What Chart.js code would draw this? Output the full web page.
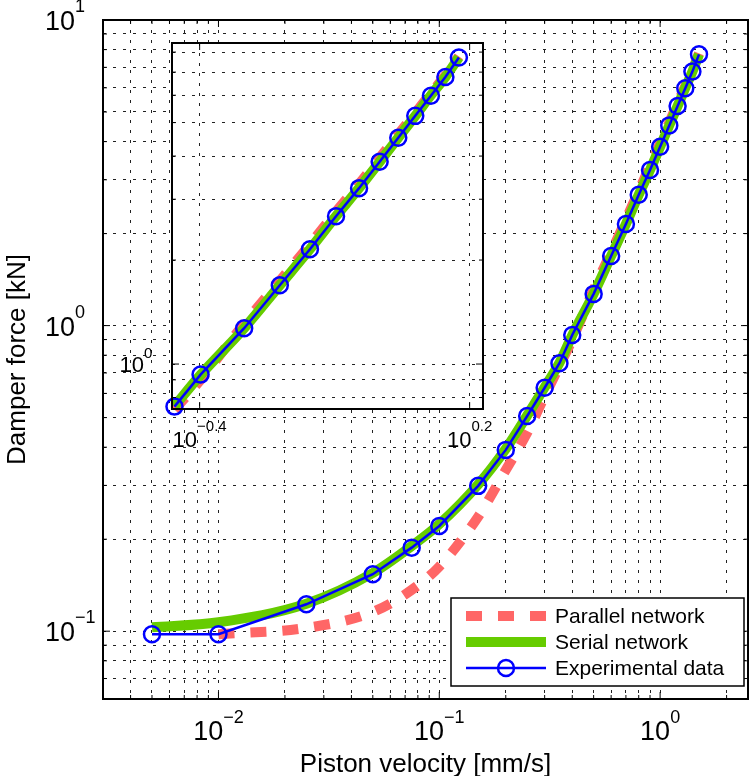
<!DOCTYPE html>
<html>
<head>
<meta charset="utf-8">
<script src="https://cdn.jsdelivr.net/npm/chart.js@4"></script>
<style>
  body { margin: 0; background: #fff; }
  #wrap { position: relative; width: 750px; height: 776px; }
  #wrap canvas { position: absolute; left: 0; top: 0; }
</style>
</head>
<body>
<div id="wrap">
  <canvas id="mainChart" width="750" height="776"></canvas>
  <canvas id="insetChart" width="750" height="776"></canvas>
</div>
<script>
// data (velocity in mm/s, force in kN)
const velocity = [0.005, 0.01, 0.025, 0.05, 0.075, 0.1, 0.15, 0.2, 0.25, 0.3, 0.35, 0.4,
  0.5, 0.6, 0.7, 0.8, 0.9, 1.0, 1.1, 1.2, 1.3, 1.4, 1.5];
const expForce = [0.0977, 0.0977, 0.1225, 0.1536, 0.1877, 0.221, 0.299, 0.392, 0.506, 0.626, 0.753, 0.932,
  1.27, 1.69, 2.15, 2.68, 3.23, 3.85, 4.52, 5.23, 5.98, 6.78, 7.72];
const serialForce = [0.103, 0.107, 0.123, 0.155, 0.19, 0.224, 0.302, 0.395, 0.508, 0.628, 0.755, 0.93,
  1.27, 1.69, 2.15, 2.68, 3.23, 3.85, 4.52, 5.23, 6.0, 6.78, 7.72];
const parallelForce = [null, 0.0977, 0.1025, 0.1156, 0.1365, 0.1627, 0.237, 0.337, 0.446, 0.588, 0.738, 0.9,
  1.31, 1.74, 2.22, 2.76, 3.32, 3.95, 4.62, 5.33, 6.08, 6.85, 7.78];

const seriesNames = ["Parallel network", "Serial network", "Experimental data"];

// axes
const mainXRange = [0.003, 2.5];
const mainYRange = [0.06, 10];
const mainXGrid = [0.003, 0.004, 0.005, 0.006, 0.007, 0.008, 0.009,
  0.01, 0.02, 0.03, 0.04, 0.05, 0.06, 0.07, 0.08, 0.09,
  0.1, 0.2, 0.3, 0.4, 0.5, 0.6, 0.7, 0.8, 0.9, 1, 2];
const mainYGrid = [0.06, 0.07, 0.08, 0.09, 0.1, 0.2, 0.3, 0.4, 0.5, 0.6, 0.7, 0.8, 0.9,
  1, 2, 3, 4, 5, 6, 7, 8, 9, 10];
const mainXExp = ["\u22122", "\u22121", "0"];
const mainYExp = ["\u22121", "0", "1"];

const insetStart = 0.35;
const insetXRange = [0.3456, 1.697];
const insetYRange = [0.741, 8.5];
const insetXExp = ["\u22120.4", "0.2"];
const insetYExp = ["0"];
const insetXGrid = [Math.pow(10, -0.4), Math.pow(10, 0.2)];
const insetYGrid = [0.8, 0.9, 1, 2, 3, 4, 5, 6, 7, 8];

const RED = "#ff6666", GREEN = "#66cc00", BLUE = "#0000ff";
const FONT = "'Liberation Sans', Arial, sans-serif";

function expValue(e) { return Math.pow(10, parseFloat(e.replace("\u2212", "-"))); }
function isDecade(v) { const l = Math.log10(v); return Math.abs(l - Math.round(l)) < 1e-6; }

function buildSets(fromX) {
  const pts = (ys) => velocity.map((v, i) => ({ x: v, y: ys[i] }))
    .filter((p) => p.y !== null && p.x >= fromX);
  return [
    { label: seriesNames[2], data: pts(expForce), borderColor: BLUE, borderWidth: 2.5,
      pointRadius: 8, pointBorderWidth: 2.5, pointBorderColor: BLUE,
      pointBackgroundColor: "rgba(0,0,0,0)", tension: 0 },
    { label: seriesNames[1], data: pts(serialForce), borderColor: GREEN, borderWidth: 10,
      pointRadius: 0, cubicInterpolationMode: "monotone" },
    { label: seriesNames[0], data: pts(parallelForce), borderColor: RED, borderWidth: 10,
      borderDash: [16, 16], borderCapStyle: "butt", pointRadius: 0, cubicInterpolationMode: "monotone" },
  ];
}

function logAxis(range, grid) {
  return {
    type: "logarithmic", min: range[0], max: range[1], bounds: "data",
    afterBuildTicks: (scale) => { scale.ticks = grid.map((v) => ({ value: v })); },
    ticks: { display: false },
    grid: { color: "#222", lineWidth: 1, drawTicks: false },
    border: { display: false, dash: [3, 7] },
  };
}

// "10" with a superscript exponent
function powLabel(ctx, exp, x, base, align, big, small, rise) {
  ctx.font = big + "px " + FONT;
  const w1 = ctx.measureText("10").width;
  ctx.font = small + "px " + FONT;
  const w2 = ctx.measureText(exp).width;
  let left = align === "center" ? x - (w1 + w2) / 2 : x - w1;
  ctx.textAlign = "left";
  ctx.textBaseline = "alphabetic";
  ctx.font = big + "px " + FONT;
  ctx.fillText("10", left, base);
  ctx.font = small + "px " + FONT;
  ctx.fillText(exp, left + w1, base - rise);
}

function frameAndTicks(chart, xMajorAll) {
  const { ctx, chartArea: a, scales: { x, y } } = chart;
  ctx.save();
  ctx.strokeStyle = "#000";
  ctx.lineWidth = 1;
  ctx.beginPath();
  x.ticks.forEach((t) => {
    const px = x.getPixelForValue(t.value);
    const len = xMajorAll || isDecade(t.value) ? 7 : 4;
    ctx.moveTo(px, a.bottom); ctx.lineTo(px, a.bottom - len);
    ctx.moveTo(px, a.top); ctx.lineTo(px, a.top + len);
  });
  y.ticks.forEach((t) => {
    const py = y.getPixelForValue(t.value);
    const len = isDecade(t.value) ? 7 : 4;
    ctx.moveTo(a.left, py); ctx.lineTo(a.left + len, py);
    ctx.moveTo(a.right, py); ctx.lineTo(a.right - len, py);
  });
  ctx.stroke();
  ctx.lineWidth = 2;
  ctx.strokeRect(a.left, a.top, a.right - a.left, a.bottom - a.top);
  ctx.restore();
}

const mainDecor = {
  id: "mainDecor",
  afterDraw(chart) {
    const { ctx, chartArea: a, scales: { x, y } } = chart;
    frameAndTicks(chart, false);
    ctx.save();
    ctx.fillStyle = "#000";
    mainXExp.forEach((e) => powLabel(ctx, e, x.getPixelForValue(expValue(e)), 740, "center", 27, 18, 17));
    mainYExp.forEach((e) => powLabel(ctx, e, 75, y.getPixelForValue(expValue(e)) + 10, "right", 27, 18, 18));

    ctx.font = "26px " + FONT;
    ctx.textAlign = "center";
    ctx.textBaseline = "alphabetic";
    ctx.fillText("Piston velocity [mm/s]", (a.left + a.right) / 2, 772);
    ctx.save();
    ctx.translate(25, (a.top + a.bottom) / 2);
    ctx.rotate(-Math.PI / 2);
    ctx.fillText("Damper force [kN]", 0, 0);
    ctx.restore();

    // legend
    const box = { l: 451, t: 598, r: 744, b: 686 };
    const rows = [616, 642, 668];
    ctx.fillStyle = "#fff";
    ctx.fillRect(box.l, box.t, box.r - box.l, box.b - box.t);
    ctx.strokeStyle = "#000";
    ctx.lineWidth = 1.5;
    ctx.strokeRect(box.l, box.t, box.r - box.l, box.b - box.t);
    const x0 = 466, x1 = 546;
    ctx.lineCap = "butt";
    ctx.lineWidth = 10;
    ctx.strokeStyle = RED;
    ctx.setLineDash([16, 16]);
    ctx.beginPath(); ctx.moveTo(x0, rows[0]); ctx.lineTo(x1, rows[0]); ctx.stroke();
    ctx.setLineDash([]);
    ctx.strokeStyle = GREEN;
    ctx.beginPath(); ctx.moveTo(x0, rows[1]); ctx.lineTo(x1, rows[1]); ctx.stroke();
    ctx.strokeStyle = BLUE;
    ctx.lineWidth = 2.5;
    ctx.beginPath(); ctx.moveTo(x0, rows[2]); ctx.lineTo(x1, rows[2]); ctx.stroke();
    ctx.beginPath(); ctx.arc((x0 + x1) / 2, rows[2], 8, 0, Math.PI * 2); ctx.stroke();
    ctx.fillStyle = "#000";
    ctx.font = "21px " + FONT;
    ctx.textAlign = "left";
    ctx.textBaseline = "middle";
    seriesNames.forEach((n, i) => ctx.fillText(n, 555, rows[i] + 1));
    ctx.restore();
  },
};

const insetDecor = {
  id: "insetDecor",
  beforeDraw(chart) {
    const { ctx, chartArea: a } = chart;
    ctx.save();
    ctx.fillStyle = "#fff";
    ctx.fillRect(a.left, a.top, a.right - a.left, a.bottom - a.top);
    ctx.restore();
  },
  afterDraw(chart) {
    const { ctx, scales: { x, y } } = chart;
    frameAndTicks(chart, true);
    ctx.save();
    ctx.fillStyle = "#000";
    insetXExp.forEach((e) => powLabel(ctx, e, x.getPixelForValue(expValue(e)), 447, "center", 22, 15, 16));
    insetYExp.forEach((e) => powLabel(ctx, e, 144, y.getPixelForValue(expValue(e)) + 8, "right", 22, 15, 14));
    ctx.restore();
  },
};

function makeChart(id, sets, xAxis, yAxis, padding, plugin, clip) {
  return new Chart(document.getElementById(id), {
    type: "line",
    data: { datasets: sets.map((s) => Object.assign({ clip: clip }, s)) },
    options: {
      responsive: false,
      animation: false,
      events: [],
      layout: { padding: padding, autoPadding: false },
      scales: { x: xAxis, y: yAxis },
      plugins: { legend: { display: false }, tooltip: { enabled: false } },
    },
    plugins: [plugin],
  });
}

makeChart("mainChart", buildSets(0), logAxis(mainXRange, mainXGrid), logAxis(mainYRange, mainYGrid),
  { left: 103, top: 20, right: 2, bottom: 77 }, mainDecor, undefined);

makeChart("insetChart", buildSets(insetStart), logAxis(insetXRange, insetXGrid), logAxis(insetYRange, insetYGrid),
  { left: 172, top: 43, right: 267, bottom: 367 }, insetDecor, 10);
</script>
</body>
</html>
